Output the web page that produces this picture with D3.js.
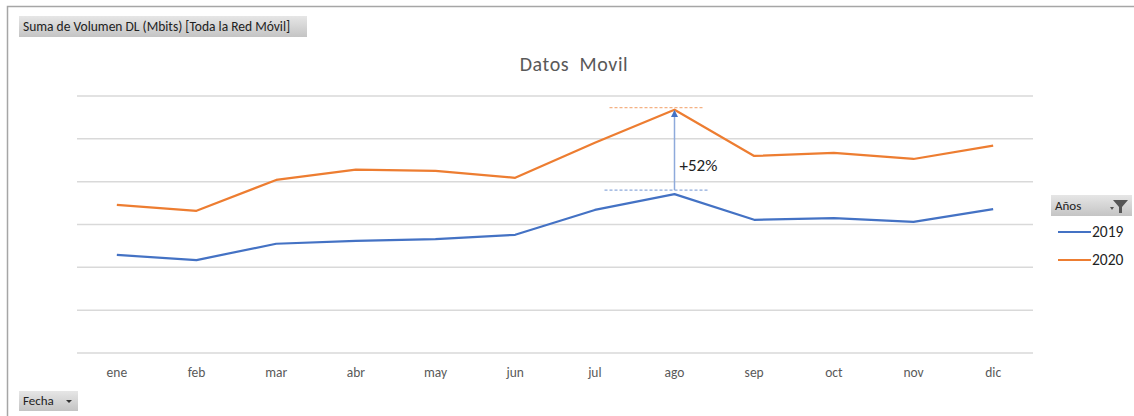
<!DOCTYPE html>
<html>
<head>
<meta charset="utf-8">
<script src="https://cdn.jsdelivr.net/npm/d3@7"></script>
<style>
  body { margin: 0; background: #fff; }
  svg { font-family: Calibri, Carlito, "Open Sans", "DejaVu Sans", sans-serif; }
</style>
</head>
<body>
<div id="chart"></div>
<script>
// months and yearly series (units: gridline steps, axis has no labels)
const months = ["ene", "feb", "mar", "abr", "may", "jun", "jul", "ago", "sep", "oct", "nov", "dic"];
const years = ["2019", "2020"];
const values2019 = [2.29, 2.17, 2.55, 2.62, 2.66, 2.76, 3.34, 3.71, 3.11, 3.15, 3.06, 3.36];
const values2020 = [3.46, 3.32, 4.04, 4.28, 4.25, 4.09, 4.91, 5.68, 4.60, 4.67, 4.53, 4.84];
const yTicks = [0, 1, 2, 3, 4, 5, 6];
const colors = ["#4472c4", "#ed7d31"];

const width = 1134, height = 416;
const margin = {top: 96, right: 101, bottom: 63, left: 77};

let svg = d3.select("#chart").append("svg")
    .attr("width", width)
    .attr("height", height);

// frame
svg.append("path")
    .attr("d", "M7.5," + height + " L7.5,6.5 L" + width + ",6.5")
    .attr("fill", "none")
    .attr("stroke", "#a6a6a6")
    .attr("stroke-width", 1.5);

let defs = svg.append("defs");
let grad = defs.append("linearGradient")
    .attr("id", "btn")
    .attr("x1", 0).attr("y1", 0).attr("x2", 0).attr("y2", 1);
grad.append("stop").attr("offset", "0%").attr("stop-color", "#e6e6e6");
grad.append("stop").attr("offset", "100%").attr("stop-color", "#c4c4c4");

defs.append("marker")
    .attr("id", "arrowHead")
    .attr("viewBox", "0 -5 10 10")
    .attr("refX", 9)
    .attr("markerWidth", 5)
    .attr("markerHeight", 5)
    .attr("orient", "auto")
    .append("path")
    .attr("d", "M0,-5L10,0L0,5")
    .attr("fill", colors[0]);

// pivot field buttons
svg.append("rect")
    .attr("x", 19).attr("y", 16).attr("width", 288).attr("height", 21)
    .attr("fill", "url(#btn)");
svg.append("text")
    .attr("x", 23).attr("y", 31)
    .attr("font-size", 13.5).attr("fill", "#222")
    .text("Suma de Volumen DL (Mbits) [Toda la Red Móvil]");

svg.append("rect")
    .attr("x", 19).attr("y", 391).attr("width", 59).attr("height", 20)
    .attr("fill", "url(#btn)");
svg.append("text")
    .attr("x", 23).attr("y", 405)
    .attr("font-size", 13).attr("fill", "#222")
    .text("Fecha");
svg.append("path")
    .attr("d", "M66,400 L72,400 L69,403 Z")
    .attr("fill", "#333");

// title
svg.append("text")
    .attr("x", 574).attr("y", 71)
    .attr("text-anchor", "middle")
    .attr("font-size", 20).attr("fill", "#595959")
    .attr("letter-spacing", 0.6)
    .style("white-space", "pre")
    .text("Datos  Movil");

let x = d3.scaleBand()
    .domain(months)
    .range([margin.left, width - margin.right]);

let y = d3.scaleLinear()
    .domain([0, 6])
    .range([height - margin.bottom, margin.top]);

// gridlines
svg.append("g")
    .selectAll("line")
    .data(yTicks)
    .enter().append("line")
    .attr("x1", margin.left)
    .attr("x2", width - margin.right)
    .attr("y1", d => y(d))
    .attr("y2", d => y(d))
    .attr("stroke", "#d9d9d9")
    .attr("stroke-width", 1.5);

// x axis labels
let xAxis = svg.append("g")
    .attr("transform", "translate(0," + (height - margin.bottom) + ")")
    .call(d3.axisBottom(x).tickSize(0).tickPadding(14));
xAxis.select(".domain").remove();
xAxis.selectAll("text")
    .attr("font-family", "Calibri, Carlito, 'Open Sans', sans-serif")
    .attr("font-size", 13.5)
    .attr("fill", "#595959");

let line = d3.line()
    .x((d, i) => x(months[i]) + x.bandwidth() / 2)
    .y(d => y(d));

svg.selectAll(".series")
    .data([values2019, values2020])
    .enter().append("path")
    .attr("class", "series")
    .attr("d", d => line(d))
    .attr("fill", "none")
    .attr("stroke", (d, i) => colors[i])
    .attr("stroke-width", 2.2)
    .attr("stroke-linejoin", "round");

// annotation at ago
let peak = months.indexOf("ago");
let ax = x("ago") + x.bandwidth() / 2;
let yLow = y(values2019[peak]) - 4;
let yHigh = y(values2020[peak]) - 2;

svg.append("line")
    .attr("x1", ax - 70).attr("x2", ax + 35)
    .attr("y1", yLow).attr("y2", yLow)
    .attr("stroke", "#8eaadb").attr("stroke-width", 1.3)
    .attr("stroke-dasharray", "3,2");
svg.append("line")
    .attr("x1", ax - 65).attr("x2", ax + 30)
    .attr("y1", yHigh).attr("y2", yHigh)
    .attr("stroke", "#f4b183").attr("stroke-width", 1.3)
    .attr("stroke-dasharray", "3,2");
svg.append("line")
    .attr("x1", ax).attr("x2", ax)
    .attr("y1", yLow).attr("y2", yHigh + 3)
    .attr("stroke", "#8eaadb").attr("stroke-width", 1.5)
    .attr("marker-end", "url(#arrowHead)");
svg.append("text")
    .attr("x", ax + 5).attr("y", 171)
    .attr("font-size", 17).attr("fill", "#222")
    .text("+52%");

// legend
svg.append("rect")
    .attr("x", 1051).attr("y", 195).attr("width", 81).attr("height", 21)
    .attr("fill", "url(#btn)");
svg.append("text")
    .attr("x", 1055).attr("y", 210)
    .attr("font-size", 13).attr("fill", "#222")
    .text("Años");
svg.append("path")
    .attr("d", "M1110,207 L1114,207 L1112,210 Z M1113,200 L1128,200 L1122,207 L1122,213 L1119,213 L1119,207 Z")
    .attr("fill", "#555");

let legend = svg.selectAll(".legend")
    .data(years)
    .enter().append("g")
    .attr("class", "legend")
    .attr("transform", (d, i) => "translate(1058," + (232 + i * 28) + ")");
legend.append("line")
    .attr("x1", 0).attr("x2", 33)
    .attr("stroke", (d, i) => colors[i])
    .attr("stroke-width", 2.2);
legend.append("text")
    .attr("x", 34).attr("y", 5)
    .attr("font-size", 15.5).attr("fill", "#222")
    .text(d => d);
</script>
</body>
</html>
